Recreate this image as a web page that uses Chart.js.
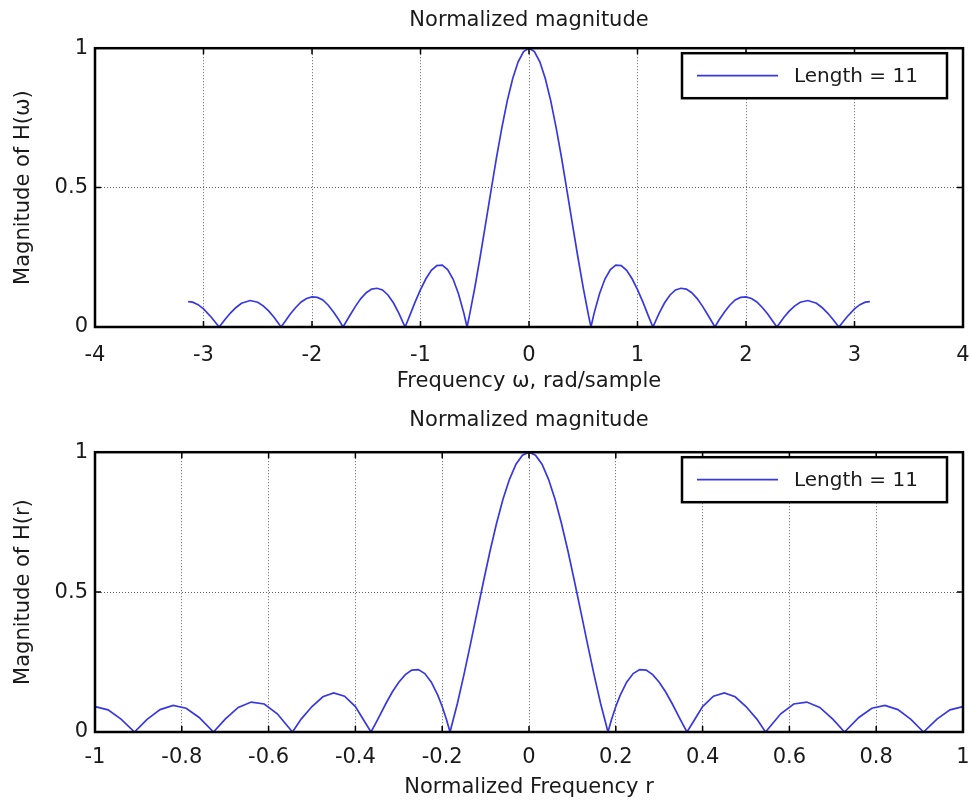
<!DOCTYPE html>
<html>
<head>
<meta charset="utf-8">
<script src="https://cdn.jsdelivr.net/npm/chart.js@4.4.1/dist/chart.umd.min.js"></script>
<style>
  body { margin: 0; background: #fff; }
  #wrap { position: relative; width: 970px; height: 806px; }
  canvas { position: absolute; left: 0; }
  #magOmega { top: 0; }
  #magR { top: 403px; }
</style>
</head>
<body>
<div id="wrap">
  <canvas id="magOmega" width="970" height="403"></canvas>
  <canvas id="magR" width="970" height="403"></canvas>
</div>
<script>
// top plot: frequency in rad/sample, magnitude
const omega = [
  -3.1416, -3.1, -3.05, -3.0, -2.93, -2.856, -2.8, -2.75, -2.7, -2.65, -2.57, -2.5, -2.45, -2.4, -2.35, -2.285,
  -2.25, -2.2, -2.15, -2.1, -2.05, -2.0, -1.95, -1.9, -1.85, -1.8, -1.75, -1.714,
  -1.65, -1.6, -1.55, -1.5, -1.45, -1.4, -1.35, -1.3, -1.25, -1.2, -1.142,
  -1.1, -1.05, -1.0, -0.95, -0.9, -0.85, -0.8, -0.75, -0.7, -0.65, -0.6, -0.571,
  -0.55, -0.5, -0.45, -0.4, -0.35, -0.3, -0.25, -0.2, -0.15, -0.1, -0.05, 0,
  0.05, 0.1, 0.15, 0.2, 0.25, 0.3, 0.35, 0.4, 0.45, 0.5, 0.55,
  0.571, 0.6, 0.65, 0.7, 0.75, 0.8, 0.85, 0.9, 0.95, 1.0, 1.05, 1.1,
  1.142, 1.2, 1.25, 1.3, 1.35, 1.4, 1.45, 1.5, 1.55, 1.6, 1.65,
  1.714, 1.75, 1.8, 1.85, 1.9, 1.95, 2.0, 2.05, 2.1, 2.15, 2.2, 2.25,
  2.285, 2.35, 2.4, 2.45, 2.5, 2.57, 2.65, 2.7, 2.75, 2.8, 2.856, 2.93, 3.0, 3.05, 3.1, 3.1416
];
const magOmega = [
  0.091, 0.089, 0.080, 0.065, 0.036, 0, 0.028, 0.051, 0.070, 0.085, 0.095, 0.089, 0.076, 0.058, 0.035, 0,
  0.019, 0.047, 0.070, 0.090, 0.102, 0.108, 0.106, 0.097, 0.078, 0.053, 0.024, 0,
  0.042, 0.074, 0.102, 0.123, 0.136, 0.139, 0.133, 0.115, 0.087, 0.050, 0,
  0.040, 0.089, 0.134, 0.173, 0.203, 0.220, 0.222, 0.206, 0.172, 0.119, 0.049, 0,
  0.039, 0.140, 0.252, 0.370, 0.489, 0.607, 0.715, 0.812, 0.891, 0.951, 0.988, 1.0,
  0.988, 0.951, 0.891, 0.812, 0.715, 0.607, 0.489, 0.370, 0.252, 0.140, 0.039,
  0, 0.049, 0.119, 0.172, 0.206, 0.222, 0.220, 0.203, 0.173, 0.134, 0.089, 0.040,
  0, 0.050, 0.087, 0.115, 0.133, 0.139, 0.136, 0.123, 0.102, 0.074, 0.042,
  0, 0.024, 0.053, 0.078, 0.097, 0.106, 0.108, 0.102, 0.090, 0.070, 0.047, 0.019,
  0, 0.035, 0.058, 0.076, 0.089, 0.095, 0.085, 0.070, 0.051, 0.028, 0, 0.036, 0.065, 0.080, 0.089, 0.091
];

// bottom plot: normalized frequency r
const rFreq = [
  -1.0, -0.97, -0.94, -0.909, -0.88, -0.85, -0.82, -0.79, -0.76, -0.727,
  -0.70, -0.67, -0.64, -0.61, -0.58, -0.545, -0.525, -0.50, -0.475, -0.45, -0.425, -0.40, -0.38, -0.364,
  -0.35, -0.33, -0.315, -0.30, -0.285, -0.27, -0.255, -0.24, -0.225, -0.21, -0.20, -0.19, -0.182,
  -0.165, -0.15, -0.135, -0.12, -0.105, -0.09, -0.075, -0.06, -0.045, -0.03, -0.015, 0,
  0.015, 0.03, 0.045, 0.06, 0.075, 0.09, 0.105, 0.12, 0.135, 0.15, 0.165,
  0.182, 0.19, 0.20, 0.21, 0.225, 0.24, 0.255, 0.27, 0.285, 0.30, 0.315, 0.33, 0.35, 0.364,
  0.38, 0.40, 0.425, 0.45, 0.475, 0.50, 0.525, 0.545, 0.58, 0.61, 0.64, 0.67, 0.70,
  0.727, 0.76, 0.79, 0.82, 0.85, 0.88, 0.909, 0.94, 0.97, 1.0
];
const magR = [
  0.091, 0.079, 0.046, 0, 0.045, 0.080, 0.095, 0.085, 0.052, 0,
  0.046, 0.088, 0.107, 0.100, 0.065, 0, 0.046, 0.091, 0.126, 0.140, 0.128, 0.091, 0.040, 0,
  0.041, 0.101, 0.143, 0.178, 0.205, 0.221, 0.223, 0.209, 0.178, 0.131, 0.091, 0.044, 0,
  0.102, 0.204, 0.313, 0.426, 0.537, 0.645, 0.744, 0.832, 0.903, 0.957, 0.989, 1.0,
  0.989, 0.957, 0.903, 0.832, 0.744, 0.645, 0.537, 0.426, 0.313, 0.204, 0.102,
  0, 0.044, 0.091, 0.131, 0.178, 0.209, 0.223, 0.221, 0.205, 0.178, 0.143, 0.101, 0.041, 0,
  0.040, 0.091, 0.128, 0.140, 0.126, 0.091, 0.046, 0, 0.065, 0.100, 0.107, 0.088, 0.046,
  0, 0.052, 0.085, 0.095, 0.080, 0.045, 0, 0.046, 0.079, 0.091
];

const seriesLabel = "Length = 11";
const lineColor = "rgb(56,56,226)";
const textColor = "#1a1a1a";

Chart.defaults.font.family = "'DejaVu Sans', sans-serif";
Chart.defaults.color = textColor;

// matlab style tick text: 1 not 1.0, 0 not 0.0
const tickText = (v) => String(Math.round(v * 10) / 10);

// black box round the axes with short inward ticks, like the matlab plot
const frameBox = {
  id: "frameBox",
  afterDatasetsDraw(chart) {
    const { ctx, chartArea: a, scales } = chart;
    ctx.save();
    ctx.strokeStyle = "#000";
    ctx.lineWidth = 1.5;
    ctx.beginPath();
    scales.x.ticks.forEach((t) => {
      const px = scales.x.getPixelForValue(t.value);
      ctx.moveTo(px, a.bottom);
      ctx.lineTo(px, a.bottom - 6);
      ctx.moveTo(px, a.top);
      ctx.lineTo(px, a.top + 6);
    });
    scales.y.ticks.forEach((t) => {
      const py = scales.y.getPixelForValue(t.value);
      ctx.moveTo(a.left, py);
      ctx.lineTo(a.left + 6, py);
      ctx.moveTo(a.right, py);
      ctx.lineTo(a.right - 6, py);
    });
    ctx.stroke();
    ctx.lineWidth = 2.5;
    ctx.strokeRect(a.left, a.top, a.right - a.left, a.bottom - a.top);
    ctx.restore();
  },
};

// boxed legend in the upper right corner
const boxLegend = {
  id: "boxLegend",
  afterDraw(chart) {
    const { ctx, chartArea: a } = chart;
    const ds = chart.data.datasets[0];
    const w = 265, h = 45;
    const x = a.right - 16 - w;
    const y = a.top + 5;
    ctx.save();
    ctx.fillStyle = "#fff";
    ctx.fillRect(x, y, w, h);
    ctx.strokeStyle = "#000";
    ctx.lineWidth = 2.5;
    ctx.strokeRect(x, y, w, h);
    ctx.strokeStyle = ds.borderColor;
    ctx.lineWidth = 1.7;
    ctx.beginPath();
    ctx.moveTo(x + 15, y + h / 2);
    ctx.lineTo(x + 96, y + h / 2);
    ctx.stroke();
    ctx.fillStyle = textColor;
    ctx.font = "20px 'DejaVu Sans'";
    ctx.textBaseline = "middle";
    ctx.fillText(ds.label, x + 112, y + h / 2 + 1);
    ctx.restore();
  },
};

function makePlot(canvasId, xs, ys, opts) {
  const points = xs.map((x, i) => ({ x: x, y: ys[i] }));
  return new Chart(document.getElementById(canvasId), {
    type: "scatter",
    data: {
      datasets: [
        {
          label: seriesLabel,
          data: points,
          showLine: true,
          borderColor: lineColor,
          borderWidth: 1.7,
          pointRadius: 0,
          tension: 0,
        },
      ],
    },
    options: {
      responsive: false,
      animation: false,
      layout: { padding: { left: 0, right: 7, top: 0, bottom: 0 } },
      plugins: {
        legend: { display: false },
        tooltip: { enabled: false },
        title: {
          display: true,
          text: "Normalized magnitude",
          fullSize: false,
          color: textColor,
          font: { size: 21, weight: "normal" },
          padding: opts.titlePad,
        },
      },
      scales: {
        x: {
          type: "linear",
          min: opts.xMin,
          max: opts.xMax,
          afterFit: (scale) => {
            scale.height = opts.xHeight;
            scale.paddingLeft = 0;
            scale.paddingRight = 0;
          },
          ticks: { stepSize: opts.xStep, padding: opts.xTickPad, font: { size: 21 }, color: textColor, callback: tickText },
          grid: { color: "#666", lineWidth: 1, drawTicks: false },
          border: { display: false, dash: [1, 2] },
          title: {
            display: true,
            text: opts.xTitle,
            color: textColor,
            font: { size: 21 },
            padding: { top: 0, bottom: opts.xTitleBottom },
          },
        },
        y: {
          min: 0,
          max: 1,
          afterFit: (scale) => {
            scale.width = 95;
            scale.paddingTop = 0;
            scale.paddingBottom = 0;
          },
          ticks: { stepSize: 0.5, padding: 7, font: { size: 21 }, color: textColor, callback: tickText },
          grid: { color: "#666", lineWidth: 1, drawTicks: false },
          border: { display: false, dash: [1, 2] },
          title: {
            display: true,
            text: opts.yTitle,
            color: textColor,
            font: { size: 21 },
            padding: { top: 11, bottom: 0 },
          },
        },
      },
    },
    plugins: [frameBox, boxLegend],
  });
}

makePlot("magOmega", omega, magOmega, {
  xMin: -4, xMax: 4, xStep: 1,
  xTitle: "Frequency \u03c9, rad/sample",
  yTitle: "Magnitude of H(\u03c9)",
  titlePad: { top: 8, bottom: 15 },
  xHeight: 76, xTickPad: 16, xTitleBottom: 9,
});

makePlot("magR", rFreq, magR, {
  xMin: -1, xMax: 1, xStep: 0.2,
  xTitle: "Normalized Frequency r",
  yTitle: "Magnitude of H(r)",
  titlePad: { top: 5, bottom: 19 },
  xHeight: 74, xTickPad: 13, xTitleBottom: 6,
});
</script>
</body>
</html>
